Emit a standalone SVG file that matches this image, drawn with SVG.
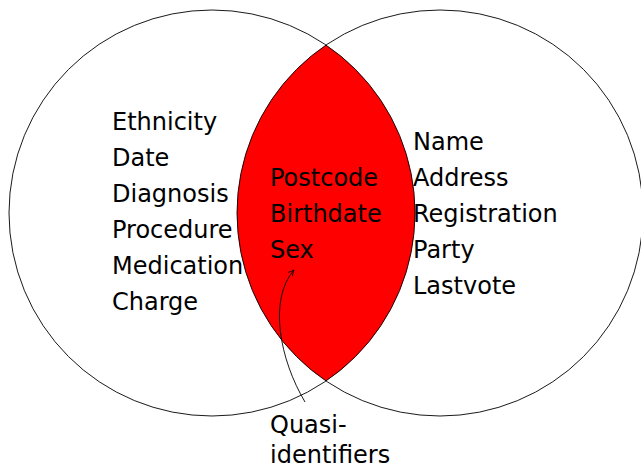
<svg xmlns="http://www.w3.org/2000/svg" width="641" height="469" viewBox="0 0 641 469">
<style>
.c{fill:none;stroke:#000;stroke-width:0.9}
.t{font-family:"DejaVu Sans","Liberation Sans",sans-serif;font-size:24px;fill:#000}
.a{fill:none;stroke:#000;stroke-width:0.9}
</style>
<defs>
<marker id="ah" viewBox="0 0 10 10" refX="9" refY="5" markerWidth="8" markerHeight="8" orient="auto" markerUnits="userSpaceOnUse">
<path d="M2,1.5 Q6,4 9,5 Q6,6 2,8.5" fill="none" stroke="#000" stroke-width="1"/>
</marker>
</defs>
<rect width="641" height="469" fill="#fff"/>
<g id="intersection">
<path d="M326,45 A203,203 0 0 1 326,381 A203,203 0 0 1 326,45 Z" fill="#ff0000"/>
</g>
<g id="left-set">
<circle class="c" cx="212" cy="213" r="203"/>
<text class="t"><tspan x="112" y="130">Ethnicity</tspan><tspan x="112" y="166">Date</tspan><tspan x="112" y="202">Diagnosis</tspan><tspan x="112" y="238">Procedure</tspan><tspan x="112" y="274">Medication</tspan><tspan x="112" y="310">Charge</tspan></text>
</g>
<g id="right-set">
<circle class="c" cx="440" cy="213" r="203"/>
<text class="t"><tspan x="413" y="150">Name</tspan><tspan x="413" y="186">Address</tspan><tspan x="413" y="222">Registration</tspan><tspan x="413" y="258">Party</tspan><tspan x="413" y="294">Lastvote</tspan></text>
</g>
<g id="shared">
<text class="t"><tspan x="270" y="186">Postcode</tspan><tspan x="270" y="222">Birthdate</tspan><tspan x="270" y="258">Sex</tspan></text>
</g>
<g id="label">
<text class="t"><tspan x="270" y="433">Quasi-</tspan><tspan x="270" y="463">identifiers</tspan></text>
</g>
<g id="connectors">
<path class="a" d="M305,402 C280,360 268,300 294,270" marker-end="url(#ah)"/>
</g>
</svg>
